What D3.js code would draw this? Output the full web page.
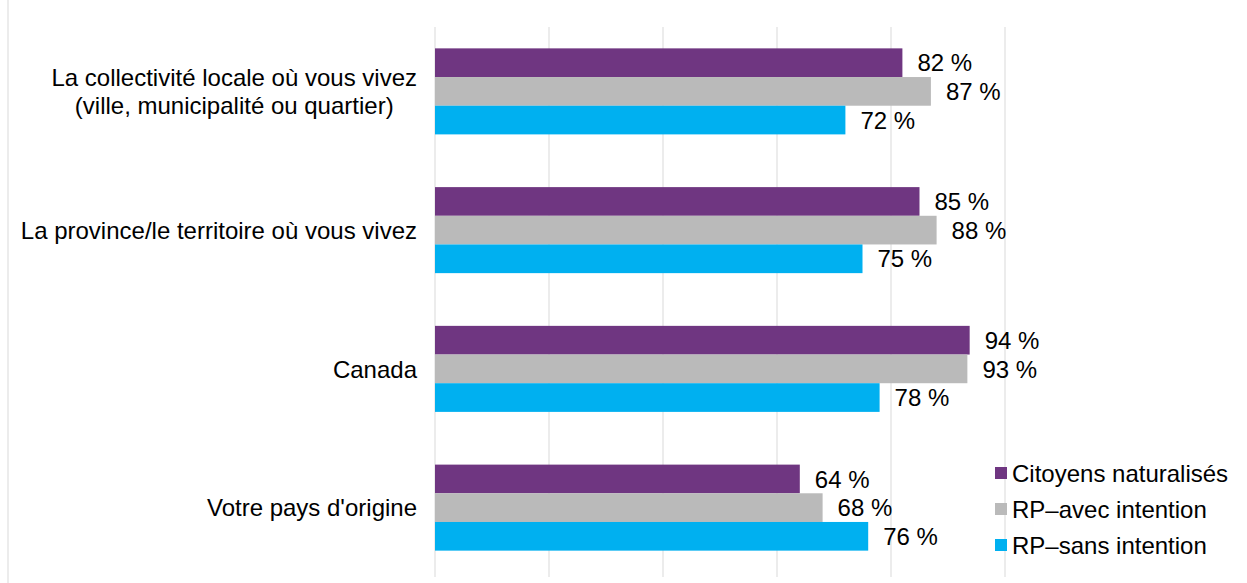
<!DOCTYPE html>
<html>
<head>
<meta charset="utf-8">
<script src="https://cdn.jsdelivr.net/npm/d3@7"></script>
<style>
  body { margin: 0; background: #fff; }
  svg { display: block; font-family: 'Liberation Sans', Arial, sans-serif; }
</style>
</head>
<body>
<svg id="chart" width="1247" height="583"></svg>
<script>
const categories = [
  ['La collectivité locale où vous vivez', '(ville, municipalité ou quartier)'],
  ['La province/le territoire où vous vivez'],
  ['Canada'],
  ["Votre pays d'origine"]
]
const seriesNames = ['Citoyens naturalisés', 'RP\u2013avec intention', 'RP\u2013sans intention']
const seriesColors = ['#6F3681', '#BABABA', '#00B0F0']
const citoyens = [82, 85, 93.8, 64]
const rpAvec = [87, 88, 93.4, 68]
const rpSans = [72, 75, 78, 76]
const xTicks = [0, 20, 40, 60, 80, 100]

const series = [citoyens, rpAvec, rpSans]

const svg = d3.select('#chart')
const width = 1247
const height = 583
const margin = { top: 22, right: 242, bottom: 5, left: 435 }

// chart border line on the left
svg.append('line')
  .attr('x1', 8).attr('x2', 8)
  .attr('y1', 0).attr('y2', height)
  .attr('stroke', '#D9D9D9')

const xScale = d3.scaleLinear().domain([0, 100]).range([margin.left, margin.left + 570])
const yScale = d3.scaleBand()
  .domain(d3.range(categories.length))
  .range([margin.top, margin.top + 555])
  .paddingInner(0.38)
  .paddingOuter(0.19)
const sub = d3.scaleBand()
  .domain(d3.range(series.length))
  .range([0, yScale.bandwidth()])

// gridlines
svg.append('g')
  .selectAll('line')
  .data(xTicks)
  .join('line')
    .attr('x1', d => xScale(d)).attr('x2', d => xScale(d))
    .attr('y1', 27).attr('y2', 577)
    .attr('stroke', '#D9D9D9')
    .attr('stroke-width', 1)

// bars
const groups = svg.append('g')
  .selectAll('g')
  .data(categories)
  .join('g')
    .attr('transform', (d, i) => 'translate(0,' + yScale(i) + ')')

groups.each(function (cat, ci) {
  const g = d3.select(this)
  series.forEach((vals, si) => {
    const v = vals[ci]
    g.append('rect')
      .attr('x', xScale(0))
      .attr('y', sub(si))
      .attr('width', xScale(v) - xScale(0))
      .attr('height', sub.bandwidth())
      .attr('fill', seriesColors[si])
    g.append('text')
      .attr('x', xScale(v) + 15)
      .attr('y', sub(si) + sub.bandwidth() / 2)
      .attr('dy', '0.36em')
      .attr('font-size', 24)
      .attr('fill', '#000')
      .text(Math.round(v) + '\u00a0%')
  })
})

// category labels: block right-aligned, lines centred inside it
groups.each(function (lines) {
  const g = d3.select(this)
  const t = g.append('text')
    .attr('font-size', 24)
    .attr('fill', '#000')
    .attr('text-anchor', 'middle')
  const lh = 28
  const y0 = yScale.bandwidth() / 2 - (lines.length - 1) * lh / 2
  lines.forEach((l, i) => {
    t.append('tspan')
      .attr('y', y0 + i * lh)
      .attr('dy', '0.36em')
      .text(l)
  })
  let maxW = 0
  t.selectAll('tspan').each(function () {
    maxW = Math.max(maxW, this.getComputedTextLength())
  })
  t.selectAll('tspan').attr('x', 417 - maxW / 2)
})

// legend
const legend = svg.append('g')
  .selectAll('g')
  .data(seriesNames)
  .join('g')
    .attr('transform', (d, i) => 'translate(995,' + (473 + i * 36) + ')')

legend.append('rect')
  .attr('x', 0).attr('y', -6)
  .attr('width', 12).attr('height', 12)
  .attr('fill', (d, i) => seriesColors[i])

legend.append('text')
  .attr('x', 17)
  .attr('dy', '0.36em')
  .attr('font-size', 24)
  .attr('fill', '#000')
  .text(d => d)
</script>
</body>
</html>
